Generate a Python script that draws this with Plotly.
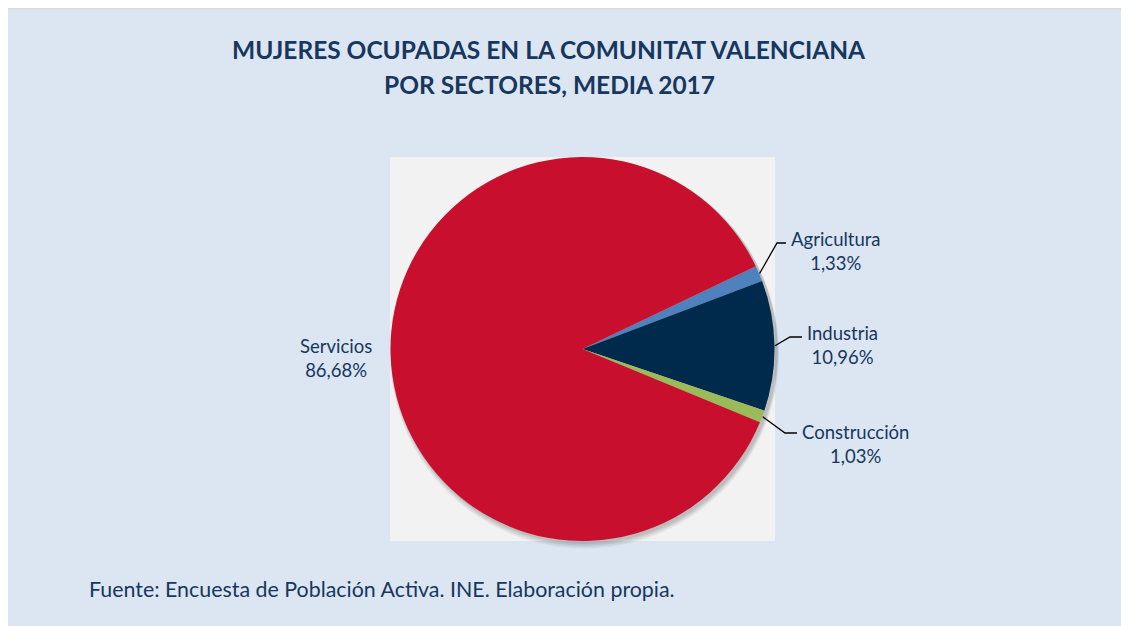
import math
import plotly.graph_objects as go

# ---- data ----
sectors = ["Agricultura", "Industria", "Construcción", "Servicios"]
shares = [1.33, 10.96, 1.03, 86.68]
share_labels = ["1,33%", "10,96%", "1,03%", "86,68%"]
colors = ["#4F81BD", "#002A4C", "#9BBB59", "#C8102E"]

title_lines = ["MUJERES OCUPADAS EN LA COMUNITAT VALENCIANA", "POR SECTORES, MEDIA 2017"]
source_text = "Fuente: Encuesta de Población Activa. INE. Elaboración propia."

W, H = 1129, 626
OFF = 8  # page body margin
TXT = "#17375E"
FONT = "Lato"

# pie square in page pixels
px0, px1, py0, py1 = 390, 775, 157, 541
cx, cy = (px0 + px1) / 2, (py0 + py1) / 2
R = (px1 - px0) / 2
rotation = 64.5  # clockwise from 12 o'clock


def X(p):
    return (p - OFF) / W


def Y(p):
    return 1 - (p - OFF) / H


fig = go.Figure(go.Pie(
    labels=sectors, values=shares, sort=False, direction="clockwise",
    rotation=rotation, marker=dict(colors=colors, line=dict(width=0)),
    textinfo="none", hoverinfo="label+percent", showlegend=False,
    domain=dict(x=[X(px0), X(px1)], y=[Y(py1), Y(py0)]),
))

shapes = [
    dict(type="rect", xref="paper", yref="paper", x0=0, x1=1, y0=0, y1=1,
         fillcolor="#DCE6F2", line=dict(width=0), layer="below"),
    dict(type="line", xref="paper", yref="paper", x0=0, x1=1, y0=Y(8.5), y1=Y(8.5),
         line=dict(color="#D9D9D9", width=2), layer="below"),
    dict(type="rect", xref="paper", yref="paper", x0=X(px0), x1=X(px1), y0=Y(py1), y1=Y(py0),
         fillcolor="#F2F2F2", line=dict(width=0), layer="below"),
]
# soft shadow
for i, op in enumerate([0.05, 0.05, 0.06, 0.07]):
    off = 5 - i
    rr = R + 2 - i * 0.5
    shapes.append(dict(type="circle", xref="paper", yref="paper",
                       x0=X(cx + 2 - rr), x1=X(cx + 2 + rr),
                       y0=Y(cy + off + rr), y1=Y(cy + off - rr),
                       fillcolor=f"rgba(0,0,0,{op})", line=dict(width=0), layer="below"))

# leader lines and labels, computed from slice mid-angles
elbows = {
    "Agricultura": ((777, 243), (786, 243), (836, 251)),
    "Industria": ((790, 337), (802, 337), (843, 345)),
    "Construcción": ((785, 433), (797, 433), (855, 444)),
}
annotations = []
cum = 0.0
total = sum(shares)
for name, v, lab in zip(sectors, shares, share_labels):
    mid = cum + v / 2
    cum += v
    ang = math.radians(90 - rotation - 360 * mid / total)
    ex, ey = cx + R * math.cos(ang), cy - R * math.sin(ang)
    if name in elbows:
        (bx, by), (hx, hy), (tx, ty) = elbows[name]
        shapes.append(dict(type="path", xref="paper", yref="paper",
                           path=f"M {X(ex)} {Y(ey)} L {X(bx)} {Y(by)} L {X(hx)} {Y(hy)}",
                           line=dict(color="black", width=1.3)))
    else:
        tx, ty = 336, 358
    annotations.append(dict(xref="paper", yref="paper", x=X(tx), y=Y(ty),
                            text=f"{name}<br>{lab}", showarrow=False,
                            font=dict(family=FONT, size=18.5, color=TXT),
                            xanchor="center", yanchor="middle", align="center"))

annotations.append(dict(xref="paper", yref="paper", x=X(549), y=Y(49), text=f"<b>{title_lines[0]}</b>",
                        showarrow=False, font=dict(family=FONT, size=24.5, color=TXT),
                        xanchor="center", yanchor="middle"))
annotations.append(dict(xref="paper", yref="paper", x=X(549), y=Y(85), text=f"<b>{title_lines[1]}</b>",
                        showarrow=False, font=dict(family=FONT, size=24.5, color=TXT),
                        xanchor="center", yanchor="middle"))
annotations.append(dict(xref="paper", yref="paper", x=X(87), y=Y(589), text=source_text,
                        showarrow=False, font=dict(family=FONT, size=21.4, color=TXT),
                        xanchor="left", yanchor="middle"))

fig.update_layout(width=W, height=H, margin=dict(l=0, r=0, t=0, b=0),
                  paper_bgcolor="white", plot_bgcolor="white",
                  shapes=shapes, annotations=annotations)
fig.write_html("out.html")
